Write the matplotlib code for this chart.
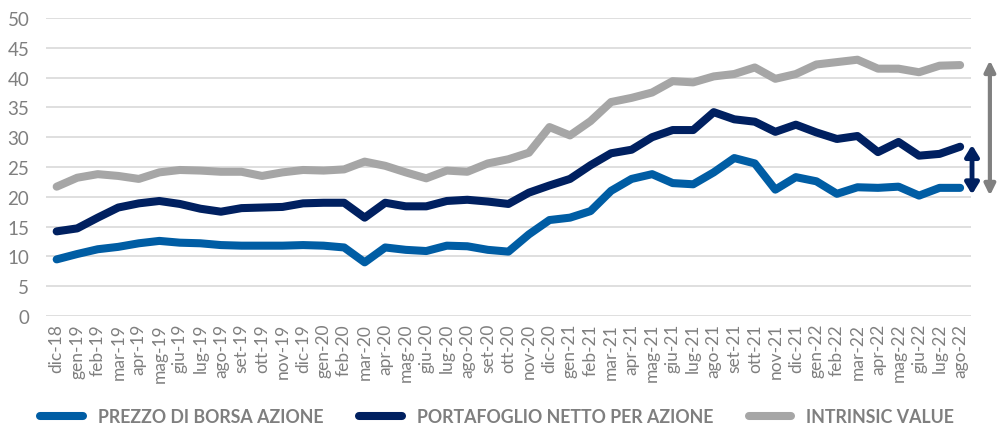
import matplotlib
matplotlib.use("Agg")
import matplotlib.pyplot as plt

plt.rcParams['font.family'] = ['Lato', 'DejaVu Sans']

months = ["dic-18", "gen-19", "feb-19", "mar-19", "apr-19", "mag-19", "giu-19", "lug-19", "ago-19", "set-19",
          "ott-19", "nov-19", "dic-19", "gen-20", "feb-20", "mar-20", "apr-20", "mag-20", "giu-20", "lug-20",
          "ago-20", "set-20", "ott-20", "nov-20", "dic-20", "gen-21", "feb-21", "mar-21", "apr-21", "mag-21",
          "giu-21", "lug-21", "ago-21", "set-21", "ott-21", "nov-21", "dic-21", "gen-22", "feb-22", "mar-22",
          "apr-22", "mag-22", "giu-22", "lug-22", "ago-22"]

prezzo = [9.5, 10.4, 11.2, 11.6, 12.2, 12.6, 12.3, 12.2, 11.9, 11.8,
          11.8, 11.8, 11.9, 11.8, 11.5, 9.0, 11.5, 11.1, 10.9, 11.8,
          11.7, 11.1, 10.8, 13.7, 16.1, 16.5, 17.6, 21.0, 23.0, 23.8,
          22.3, 22.1, 24.1, 26.5, 25.6, 21.2, 23.3, 22.6, 20.5, 21.6,
          21.5, 21.7, 20.2, 21.5, 21.5]

portafoglio = [14.2, 14.7, 16.5, 18.2, 18.9, 19.3, 18.8, 18.0, 17.5, 18.1,
               18.2, 18.3, 18.9, 19.0, 19.0, 16.5, 19.0, 18.4, 18.4, 19.3,
               19.5, 19.2, 18.8, 20.7, 21.9, 23.0, 25.3, 27.3, 27.9, 30.0,
               31.2, 31.2, 34.2, 33.0, 32.6, 30.9, 32.1, 30.8, 29.7, 30.2,
               27.5, 29.2, 26.9, 27.2, 28.4]

intrinsic = [21.7, 23.2, 23.8, 23.5, 23.0, 24.1, 24.5, 24.4, 24.2, 24.2,
             23.5, 24.1, 24.5, 24.4, 24.6, 25.9, 25.2, 24.1, 23.1, 24.4,
             24.2, 25.6, 26.3, 27.4, 31.7, 30.3, 32.7, 35.9, 36.6, 37.5,
             39.4, 39.2, 40.2, 40.6, 41.7, 39.8, 40.6, 42.2, 42.6, 43.0,
             41.5, 41.5, 40.9, 42.0, 42.1]

series_names = ["PREZZO DI BORSA AZIONE", "PORTAFOGLIO NETTO PER AZIONE", "INTRINSIC VALUE"]
colors = ["#005DA4", "#002060", "#A6A6A6"]
yticks = list(range(0, 51, 5))

W, H = 998, 427
fig = plt.figure(figsize=(W / 100, H / 100), dpi=100)
ax = fig.add_axes([46 / W, (H - 317) / H, (971 - 46) / W, (317 - 19) / H])

x = list(range(len(months)))
lines = []
for vals, c, name in zip([prezzo, portafoglio, intrinsic], colors, series_names):
    ln, = ax.plot(x, vals, color=c, lw=5.8, solid_capstyle='round', solid_joinstyle='round', label=name, zorder=3)
    lines.append(ln)

ax.set_ylim(0, 50)
ax.set_xlim(-0.52, 44.53)
ax.set_yticks(yticks)
ax.set_xticks(x)
ax.set_xticklabels(months, rotation=90, fontsize=12.5, color="#7F7F7F")
ax.tick_params(axis='y', labelsize=13.5, colors="#7F7F7F", length=0, pad=12)
ax.tick_params(axis='x', length=0, pad=5)
ax.grid(axis='y', color="#D9D9D9", lw=1.2)
ax.set_axisbelow(True)
for s in ax.spines.values():
    s.set_visible(False)

# double arrows on the right
ax.annotate("", xy=(44.58, portafoglio[-1] + 0.3), xytext=(44.58, prezzo[-1] - 1.1),
            arrowprops=dict(arrowstyle="<|-|>,head_length=0.65,head_width=0.4", color="#002060", lw=3.5,
                            shrinkA=0, shrinkB=0),
            annotation_clip=False)
ax.annotate("", xy=(45.45, intrinsic[-1] + 0.8), xytext=(45.45, prezzo[-1] - 1.3),
            arrowprops=dict(arrowstyle="<|-|>,head_length=0.65,head_width=0.32", color="#808080", lw=3,
                            shrinkA=0, shrinkB=0),
            annotation_clip=False)

leg = fig.legend(handles=lines, loc='center left', bbox_to_anchor=(33 / W, (H - 418) / H), ncol=3,
                 frameon=False, handlelength=2.4, columnspacing=2.0, handletextpad=0.85,
                 borderaxespad=0, prop={'weight': 'bold', 'size': 12.8})
for t in leg.get_texts():
    t.set_color("#7F7F7F")

fig.savefig("out.png", dpi=100)
